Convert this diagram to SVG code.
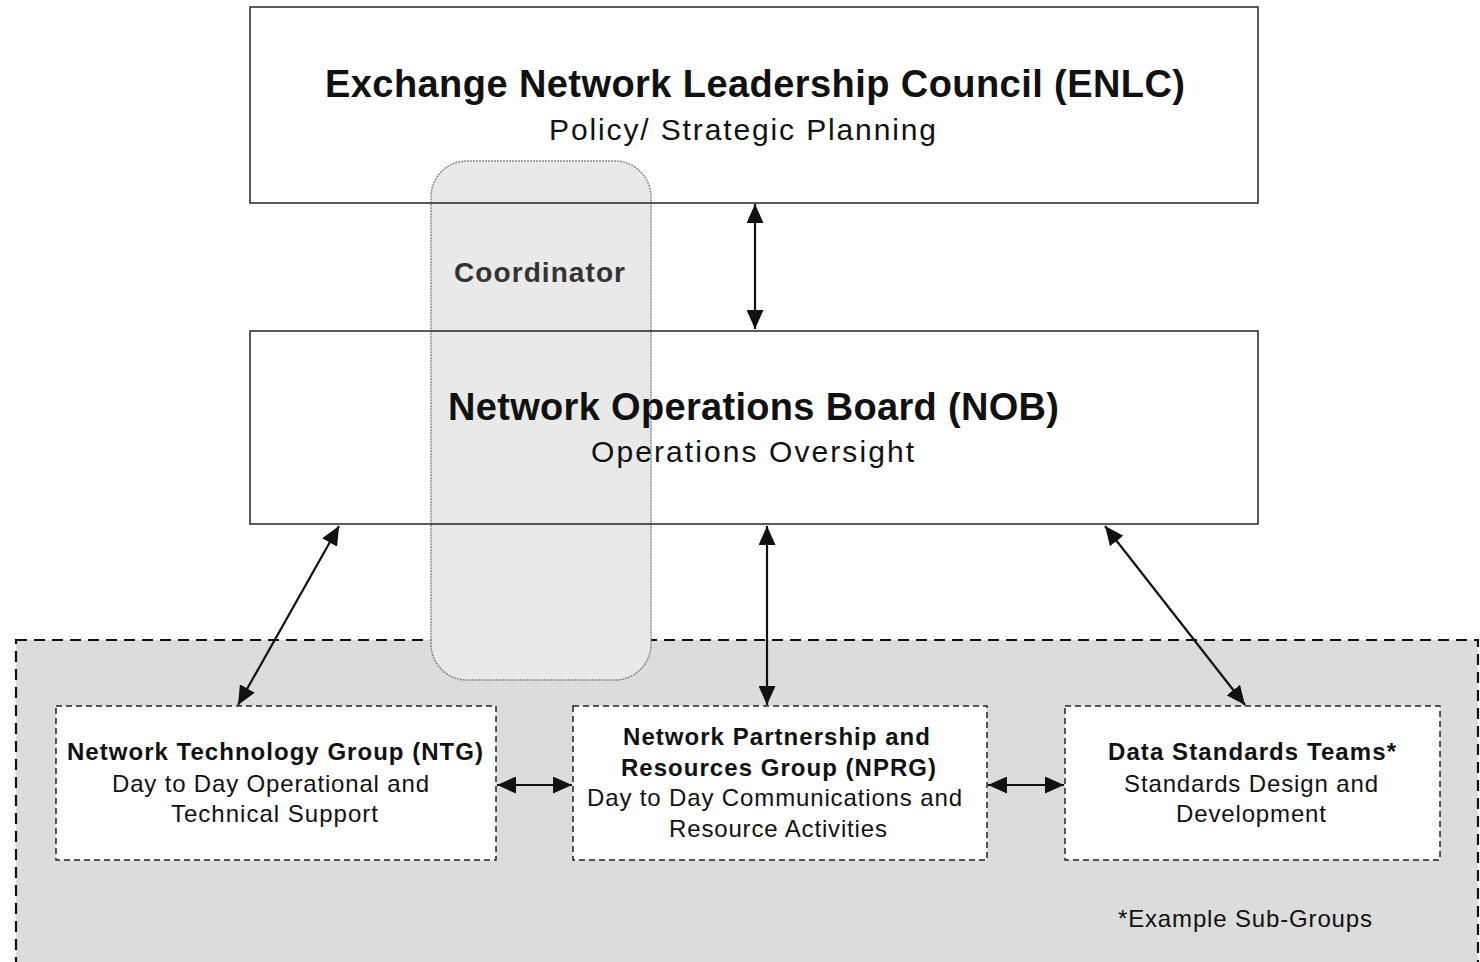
<svg xmlns="http://www.w3.org/2000/svg" width="1480" height="962" viewBox="0 0 1480 962">
<style>
text{font-family:"Liberation Sans",Arial,sans-serif;fill:#111}
.b{font-weight:bold}
.main{fill:none;stroke:#333;stroke-width:1.6}
.sub{fill:#fff;stroke:#222;stroke-width:1.5;stroke-dasharray:6 4}
.conn{stroke:#111;stroke-width:2.2;fill:none;marker-start:url(#ah);marker-end:url(#ah)}
</style>
<defs>
<marker id="ah" viewBox="0 0 19 17" refX="19" refY="8.5" markerWidth="19" markerHeight="17" markerUnits="userSpaceOnUse" orient="auto-start-reverse">
<path d="M0,0 L19,8.5 L0,17 Z" fill="#111"/>
</marker>
</defs>
<rect width="1480" height="962" fill="#fff"/>
<g id="subgroups-area">
<rect x="16" y="640" width="1462" height="340" fill="#dcdcdc" stroke="#111" stroke-width="2.2" stroke-dasharray="11 7"/>
<text x="1118" y="927" font-size="24" fill="#222" textLength="254" lengthAdjust="spacing">*Example Sub-Groups</text>
</g>
<g id="coordinator">
<rect x="431" y="161" width="220" height="519" rx="36" fill="#e9e9e9" stroke="#888" stroke-width="1.5" stroke-dasharray="2 1"/>
<text x="454" y="282" font-size="28" class="b" style="fill:#333" textLength="171" lengthAdjust="spacing">Coordinator</text>
</g>
<g id="enlc">
<rect class="main" x="250" y="7" width="1008" height="196"/>
<text x="325" y="97" font-size="38" class="b" textLength="860" lengthAdjust="spacing">Exchange Network Leadership Council (ENLC)</text>
<text x="549" y="140" font-size="30" textLength="387" lengthAdjust="spacing">Policy/ Strategic Planning</text>
</g>
<g id="nob">
<rect class="main" x="250" y="331" width="1008" height="193"/>
<text x="448" y="420" font-size="38" class="b" textLength="611" lengthAdjust="spacing">Network Operations Board (NOB)</text>
<text x="591" y="462" font-size="30" textLength="323" lengthAdjust="spacing">Operations Oversight</text>
</g>
<g id="ntg">
<rect class="sub" x="56" y="706" width="440" height="154"/>
<text x="67" y="760" font-size="24" class="b" textLength="416" lengthAdjust="spacing">Network Technology Group (NTG)</text>
<text x="112" y="792" font-size="24" textLength="317" lengthAdjust="spacing">Day to Day Operational and</text>
<text x="171" y="822" font-size="24" textLength="207" lengthAdjust="spacing">Technical Support</text>
</g>
<g id="nprg">
<rect class="sub" x="573" y="706" width="414" height="154"/>
<text x="623" y="745" font-size="24" class="b" textLength="307" lengthAdjust="spacing">Network Partnership and</text>
<text x="621" y="776" font-size="24" class="b" textLength="315" lengthAdjust="spacing">Resources Group (NPRG)</text>
<text x="587" y="806" font-size="24" textLength="375" lengthAdjust="spacing">Day to Day Communications and</text>
<text x="669" y="837" font-size="24" textLength="218" lengthAdjust="spacing">Resource Activities</text>
</g>
<g id="dst">
<rect class="sub" x="1065" y="706" width="375" height="154"/>
<text x="1108" y="760" font-size="24" class="b" textLength="288" lengthAdjust="spacing">Data Standards Teams*</text>
<text x="1124" y="792" font-size="24" textLength="254" lengthAdjust="spacing">Standards Design and</text>
<text x="1176" y="822" font-size="24" textLength="150" lengthAdjust="spacing">Development</text>
</g>
<g id="connectors">
<line class="conn" x1="755" y1="204" x2="755" y2="329"/>
<line class="conn" x1="339" y1="526" x2="238" y2="705"/>
<line class="conn" x1="767" y1="526" x2="767" y2="705"/>
<line class="conn" x1="1105" y1="526" x2="1245" y2="705"/>
<line class="conn" x1="497" y1="785" x2="572" y2="785"/>
<line class="conn" x1="988" y1="785" x2="1064" y2="785"/>
</g>
</svg>
